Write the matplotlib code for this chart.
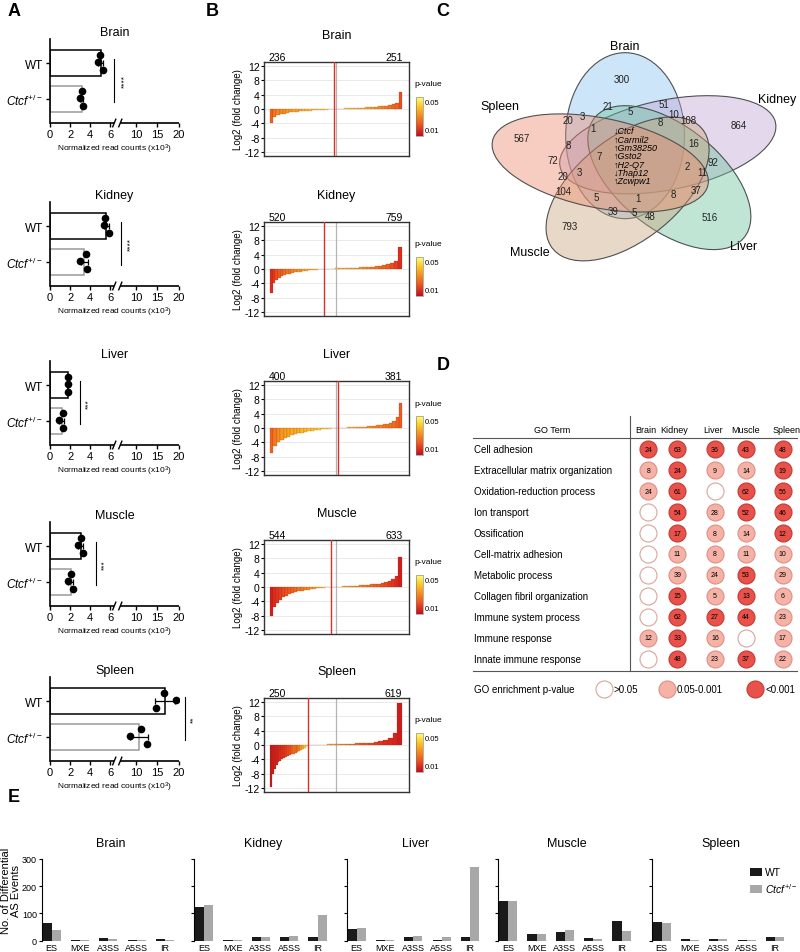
import numpy as np
import matplotlib
matplotlib.use('Agg')
import matplotlib.pyplot as plt
from matplotlib.patches import Ellipse, Patch
from matplotlib.colors import LinearSegmentedColormap, Normalize, to_rgba
from matplotlib.cm import ScalarMappable

plt.rcParams['font.family'] = ['Liberation Sans', 'DejaVu Sans']
plt.rcParams['mathtext.fontset'] = 'custom'
plt.rcParams['mathtext.rm'] = 'Liberation Sans'
plt.rcParams['mathtext.it'] = 'Liberation Sans:italic'
plt.rcParams['mathtext.bf'] = 'Liberation Sans:bold'
plt.rcParams['axes.unicode_minus'] = False

#----------------------------------------------------------------------
# data
#----------------------------------------------------------------------
tissues = ['Brain', 'Kidney', 'Liver', 'Muscle', 'Spleen']

# A: normalized read counts (x10^3), three replicates per genotype
wt_pts = [[5.0, 4.8, 5.3], [5.5, 5.4, 5.9], [1.8, 1.8, 1.8], [3.1, 2.8, 3.3], [16.5, 19.3, 14.7]]
het_pts = [[3.2, 3.0, 3.3], [3.6, 3.0, 3.7], [1.27, 0.9, 1.3], [2.1, 1.8, 2.3], [11.1, 8.6, 12.6]]
stars = ['****', '****', '***', '***', '**']

# B: number of down / up regulated genes and sorted log2 fold changes
n_down = [236, 520, 400, 544, 250]
n_up = [251, 759, 381, 633, 619]

brain_fc_down = [-3.8, -2.2, -1.7, -1.45, -1.25, -1.1, -0.95, -0.85, -0.75, -0.65, -0.57, -0.5, -0.43, -0.37, -0.31, -0.25, -0.19, -0.14, -0.09, -0.04]
brain_fc_up = [0.04, 0.08, 0.12, 0.16, 0.2, 0.24, 0.28, 0.33, 0.38, 0.43, 0.49, 0.55, 0.62, 0.7, 0.8, 0.92, 1.05, 1.25, 1.6, 4.8]
kidney_fc_down = [-6.5, -4.0, -3.0, -2.4, -2.0, -1.7, -1.45, -1.25, -1.1, -0.95, -0.82, -0.7, -0.6, -0.5, -0.4, -0.32, -0.24, -0.16, -0.1, -0.04]
kidney_fc_up = [0.04, 0.08, 0.12, 0.16, 0.2, 0.25, 0.3, 0.35, 0.4, 0.46, 0.52, 0.6, 0.68, 0.78, 0.9, 1.05, 1.25, 1.55, 2.1, 6.0]
liver_fc_down = [-7.0, -5.0, -4.0, -3.3, -2.8, -2.4, -2.0, -1.7, -1.45, -1.25, -1.05, -0.9, -0.75, -0.6, -0.48, -0.37, -0.27, -0.18, -0.1, -0.04]
liver_fc_up = [0.04, 0.08, 0.12, 0.16, 0.2, 0.25, 0.3, 0.35, 0.4, 0.46, 0.53, 0.6, 0.7, 0.82, 0.97, 1.2, 1.5, 2.0, 3.0, 7.0]
muscle_fc_down = [-8.0, -5.5, -4.3, -3.5, -2.9, -2.4, -2.0, -1.7, -1.45, -1.2, -1.0, -0.85, -0.7, -0.56, -0.45, -0.34, -0.25, -0.17, -0.1, -0.04]
muscle_fc_up = [0.04, 0.08, 0.12, 0.17, 0.22, 0.27, 0.33, 0.4, 0.47, 0.55, 0.63, 0.72, 0.83, 0.95, 1.1, 1.3, 1.6, 2.1, 3.0, 8.3]
spleen_fc_down = [-11.5, -8.0, -6.5, -5.5, -4.8, -4.3, -3.9, -3.6, -3.3, -3.05, -2.8, -2.6, -2.4, -2.2, -2.0, -1.75, -1.5, -1.15, -0.75, -0.25]
spleen_fc_up = [0.03, 0.06, 0.09, 0.12, 0.16, 0.2, 0.24, 0.28, 0.33, 0.38, 0.44, 0.5, 0.58, 0.68, 0.8, 1.0, 1.3, 1.9, 3.2, 11.5]

brain_p_down = [0.02, 0.025, 0.028, 0.03, 0.03, 0.032, 0.034, 0.035, 0.036, 0.038, 0.04, 0.041, 0.042, 0.044, 0.045, 0.046, 0.047, 0.048, 0.049, 0.05]
brain_p_up = [0.05, 0.049, 0.048, 0.047, 0.046, 0.045, 0.043, 0.041, 0.04, 0.038, 0.036, 0.034, 0.032, 0.03, 0.028, 0.026, 0.024, 0.022, 0.02, 0.015]
kidney_p_down = [0.008, 0.012, 0.015, 0.018, 0.02, 0.022, 0.024, 0.026, 0.028, 0.03, 0.032, 0.034, 0.036, 0.038, 0.04, 0.042, 0.044, 0.046, 0.048, 0.05]
kidney_p_up = [0.05, 0.048, 0.046, 0.044, 0.042, 0.04, 0.038, 0.036, 0.034, 0.032, 0.03, 0.028, 0.026, 0.024, 0.022, 0.02, 0.018, 0.015, 0.012, 0.008]
liver_p_down = [0.02, 0.025, 0.03, 0.032, 0.034, 0.035, 0.036, 0.037, 0.038, 0.04, 0.041, 0.042, 0.043, 0.044, 0.045, 0.046, 0.047, 0.048, 0.049, 0.05]
liver_p_up = [0.05, 0.048, 0.046, 0.044, 0.042, 0.04, 0.038, 0.036, 0.034, 0.032, 0.03, 0.029, 0.028, 0.027, 0.026, 0.025, 0.024, 0.022, 0.02, 0.018]
muscle_p_down = [0.005, 0.008, 0.01, 0.012, 0.014, 0.016, 0.018, 0.02, 0.022, 0.024, 0.026, 0.028, 0.03, 0.033, 0.036, 0.039, 0.042, 0.045, 0.048, 0.05]
muscle_p_up = [0.05, 0.047, 0.044, 0.041, 0.038, 0.035, 0.032, 0.03, 0.028, 0.026, 0.024, 0.022, 0.02, 0.018, 0.016, 0.014, 0.012, 0.01, 0.008, 0.005]
spleen_p_down = [0.003, 0.004, 0.005, 0.006, 0.007, 0.008, 0.009, 0.01, 0.012, 0.014, 0.016, 0.02, 0.025, 0.022, 0.03, 0.028, 0.035, 0.04, 0.045, 0.05]
spleen_p_up = [0.05, 0.048, 0.045, 0.042, 0.039, 0.036, 0.033, 0.03, 0.027, 0.024, 0.021, 0.018, 0.016, 0.014, 0.012, 0.01, 0.008, 0.007, 0.006, 0.004]

fc_down = [brain_fc_down, kidney_fc_down, liver_fc_down, muscle_fc_down, spleen_fc_down]
fc_up = [brain_fc_up, kidney_fc_up, liver_fc_up, muscle_fc_up, spleen_fc_up]
p_down = [brain_p_down, kidney_p_down, liver_p_down, muscle_p_down, spleen_p_down]
p_up = [brain_p_up, kidney_p_up, liver_p_up, muscle_p_up, spleen_p_up]

# C: venn region counts
venn_sets = ['Brain', 'Kidney', 'Liver', 'Muscle', 'Spleen']
venn_counts = ['300', '864', '567', '516', '793', '21', '5', '51', '10', '108', '8', '20', '3', '1', '8',
               '16', '72', '7', '92', '2', '3', '20', '11', '104', '5', '1', '8', '37', '39', '5', '48']
core_genes = ['Ctcf', 'Carmil2', 'Gm38250', 'Gsto2', 'H2-Q7', 'Thap12', 'Zcwpw1']
core_dir = ['\u2193', '\u2191', '\u2191', '\u2191', '\u2191', '\u2193', '\u2191']

# D: GO terms, gene counts and p-value class (0: >0.05, 1: 0.05-0.001, 2: <0.001)
go_terms = ['Cell adhesion', 'Extracellular matrix organization', 'Oxidation-reduction process',
            'Ion transport', 'Ossification', 'Cell-matrix adhesion', 'Metabolic process',
            'Collagen fibril organization', 'Immune system process', 'Immune response',
            'Innate immune response']
go_counts = [[24, 63, 36, 43, 48],
             [8, 24, 9, 14, 19],
             [24, 61, None, 62, 56],
             [None, 54, 28, 52, 46],
             [None, 17, 8, 14, 12],
             [None, 11, 8, 11, 10],
             [None, 39, 24, 53, 29],
             [None, 15, 5, 13, 6],
             [None, 62, 27, 44, 23],
             [12, 33, 16, None, 17],
             [None, 48, 23, 37, 22]]
go_class = [[2, 2, 2, 2, 2],
            [1, 2, 1, 1, 2],
            [1, 2, 0, 2, 2],
            [0, 2, 1, 2, 2],
            [0, 2, 1, 1, 2],
            [0, 1, 1, 1, 1],
            [0, 1, 1, 2, 1],
            [0, 2, 1, 2, 1],
            [0, 2, 2, 2, 1],
            [1, 2, 1, 0, 1],
            [0, 2, 1, 2, 1]]
go_legend = ['>0.05', '0.05-0.001', '<0.001']

# E: differential AS events
as_types = ['ES', 'MXE', 'A3SS', 'A5SS', 'IR']
as_wt = [[65, 2, 10, 2, 8], [122, 2, 15, 12, 15], [44, 2, 12, 3, 12], [146, 25, 31, 10, 72], [68, 6, 6, 3, 12]]
as_het = [[38, 1, 5, 1, 3], [132, 1, 12, 18, 96], [48, 1, 17, 12, 270], [146, 26, 41, 7, 37], [65, 2, 5, 2, 13]]

#----------------------------------------------------------------------
W, H = 800, 953
fig = plt.figure(figsize=(W / 100, H / 100), dpi=100)


def rect(x0, y0, x1, y1):
    return [x0 / W, 1 - y1 / H, (x1 - x0) / W, (y1 - y0) / H]


def ftext(x, y, s, **kw):
    fig.text(x / W, 1 - y / H, s, **kw)


het_label = r'$\mathit{Ctcf}^{+/-}$'

for lab, x, y in [('A', 14, 12), ('B', 212, 12), ('C', 443, 12), ('D', 443, 366), ('E', 14, 797)]:
    ftext(x, y, lab, fontsize=13, fontweight='bold', ha='center', va='center')

#---------------- A: broken-axis bar charts ----------------
def fwd(x):
    x = np.asarray(x, dtype=float)
    return np.where(x <= 6.4, x, 7.0 + (x - 6.4) * 0.43)


def inv(s):
    s = np.asarray(s, dtype=float)
    return np.where(s <= 6.4, s, np.where(s < 7.0, 6.4, 6.4 + (s - 7.0) / 0.43))


a_bottoms = [124, 287, 446, 607, 762]
sig_x = [6.4, 6.63, 3.0, 4.6, 21.5]
star_x = [7.33, 8.73, 3.9, 5.5, 23.4]
dot_dy = [0.22, 0.03, -0.2]
sc_max = float(fwd(20))

for i, t in enumerate(tissues):
    b = a_bottoms[i]
    ax = fig.add_axes(rect(50, b - 84, 179, b))
    ax.set_xscale('function', functions=(fwd, inv))
    ax.set_xlim(0, 20)
    ax.set_ylim(-0.667, 1.667)
    for yc, pts, ec in [(1, wt_pts[i], 'black'), (0, het_pts[i], '#9a9a9a')]:
        m = np.mean(pts)
        sd = np.std(pts, ddof=1)
        ax.barh(yc, m, height=0.7, color='white', edgecolor=ec, linewidth=1.1, zorder=2)
        ax.errorbar(m, yc, xerr=sd, color='black', capsize=2, lw=0.9, capthick=0.9, zorder=3)
        ax.plot(pts, yc + np.array(dot_dy), 'o', color='black', ms=4.5, zorder=4)
    ax.set_xticks([0, 2, 4, 6, 10, 15, 20])
    ax.set_xticklabels(['0', '2', '4', '6', '10', '15', '20'])
    ax.minorticks_off()
    ax.set_yticks([1, 0])
    ax.set_yticklabels(['WT', het_label])
    ax.tick_params(axis='x', labelsize=8, length=3, width=1, pad=1)
    ax.tick_params(axis='y', labelsize=8.5, length=3, width=1, pad=2)
    for sp in ['top', 'right', 'bottom']:
        ax.spines[sp].set_visible(False)
    ax.spines['left'].set_linewidth(1.2)
    for s0, s1 in [(0, 6.4), (7.0, sc_max)]:
        ax.plot([s0 / sc_max, s1 / sc_max], [0, 0], transform=ax.transAxes, color='black',
                lw=1.2, clip_on=False, solid_capstyle='butt')
    for s in [6.4, 7.0]:
        ax.plot([s / sc_max - 0.012, s / sc_max + 0.012], [-0.045, 0.045], transform=ax.transAxes,
                color='black', lw=1.0, clip_on=False)
    ax.plot([sig_x[i]] * 2, [1.11, -0.08], color='black', lw=0.8, clip_on=False)
    ax.text(star_x[i], 0.5, stars[i], rotation=90, ha='center', va='center', fontsize=6, clip_on=False)
    ax.set_xlabel('Normalized read counts (x10$^3$)', fontsize=6, labelpad=2)
    ax.set_title(t, fontsize=9, pad=3)

#---------------- B: waterfall plots ----------------
pv_cmap = LinearSegmentedColormap.from_list(
    'pv', [(0, '#b5121b'), (0.12, '#d9261e'), (0.3, '#ec571e'), (0.55, '#f5921f'),
           (0.8, '#fbd22c'), (1, '#ffff85')])
pv_norm = Normalize(0, 0.056)
b_tops = [63, 223, 382, 541, 699]

for i, t in enumerate(tissues):
    top = b_tops[i]
    ax = fig.add_axes(rect(264, top, 409, top + 94))
    nd, nu = n_down[i], n_up[i]
    N = nd + nu
    wd = nd / len(fc_down[i])
    wu = nu / len(fc_up[i])
    xd = np.arange(len(fc_down[i])) * wd
    xu = nd + np.arange(len(fc_up[i])) * wu
    ax.bar(xd, fc_down[i], width=wd, align='edge', color=pv_cmap(pv_norm(p_down[i])),
           edgecolor=(0.6, 0.15, 0.05, 0.45), linewidth=0.3, zorder=2)
    ax.bar(xu, fc_up[i], width=wu, align='edge', color=pv_cmap(pv_norm(p_up[i])),
           edgecolor=(0.6, 0.15, 0.05, 0.45), linewidth=0.3, zorder=2)
    ax.axvline(N / 2, color='#b4b4b4', lw=0.9, zorder=1)
    ax.axvline(nd, color='#d9302a', lw=1.0, zorder=3)
    ax.set_xlim(-6 / 132 * N, N + 7 / 132 * N)
    ax.set_ylim(-13, 13)
    ax.set_yticks(np.arange(-12, 13, 4))
    ax.set_xticks([])
    ax.grid(axis='y', color='#e6e6e6', lw=0.6)
    ax.set_axisbelow(True)
    ax.tick_params(axis='y', labelsize=7.5, length=2, pad=1)
    for sp in ax.spines.values():
        sp.set_color('#333333')
        sp.set_linewidth(1.0)
    ax.set_ylabel('Log2 (fold change)', fontsize=7, labelpad=1)
    ax.text(0.03, 1.0, str(nd), transform=ax.transAxes, ha='left', va='bottom', fontsize=7.5)
    ax.text(0.955, 1.0, str(nu), transform=ax.transAxes, ha='right', va='bottom', fontsize=7.5)
    ax.set_title(t, fontsize=9, pad=17.5)

    cax = fig.add_axes(rect(416, top + 35, 423, top + 74))
    cb = fig.colorbar(ScalarMappable(norm=pv_norm, cmap=pv_cmap), cax=cax, ticks=[0.01, 0.05])
    cb.ax.set_yticklabels(['0.01', '0.05'])
    cb.ax.tick_params(labelsize=5.5, length=0, pad=1)
    cb.outline.set_linewidth(0.4)
    cb.outline.set_edgecolor('#777777')
    ftext(414, top + 22, 'p-value', fontsize=6, va='center', ha='left')

#---------------- C: five-set venn ----------------
axc = fig.add_axes(rect(430, 20, 800, 280))
cx, cy, sx = 638, 163, 1.35
axc.set_xlim((430 - cx) / sx, (800 - cx) / sx)
axc.set_ylim(cy - 280, cy - 20)
axc.axis('off')
venn_colors = ['#86c2f0', '#c0a6d4', '#6cc29c', '#caa27a', '#ee8a6e']
for k in range(5):
    off = np.deg2rad(110 - 72 * k)
    axc.add_patch(Ellipse((28 * np.cos(off), 28 * np.sin(off)), width=2 * 83, height=2 * 44,
                          angle=90 - 72 * k, facecolor=to_rgba(venn_colors[k], 0.42),
                          edgecolor='#505050', linewidth=0.8))

venn_xy = [(621.7, 80), (738.3, 126), (521.7, 139.3), (709.3, 218.3), (570, 227.3), (607.7, 107.3),
           (630, 112), (664.3, 104.7), (673.3, 115), (688.3, 120.7), (660, 122.7), (568.3, 120.7),
           (582.7, 117.3), (593.3, 128.7), (568.3, 146), (693.3, 144), (553.3, 160.7), (599.3, 156.7),
           (713.3, 162.7), (687.7, 166.7), (579.3, 173.3), (562.7, 177.3), (702.7, 173.3),
           (563.3, 191.7), (596.7, 198), (638.3, 199.3), (673.3, 194.7), (696, 191.3),
           (612.7, 212.3), (634, 213.3), (650, 216.7)]
for s, (x, y) in zip(venn_counts, venn_xy):
    ftext(x, y, s, fontsize=7, ha='center', va='center', color='#222222')
for k, g in enumerate(core_genes):
    ftext(614, 131.5 + 8.4 * k, core_dir[k] + g, fontsize=6.5, style='italic', ha='left', va='center')
set_xy = [(625, 46.7), (776.7, 100), (743.3, 247.3), (530, 253.3), (500, 106.7)]
for s, (x, y) in zip(venn_sets, set_xy):
    ftext(x, y, s, fontsize=9, ha='center', va='center')

#---------------- D: GO term table ----------------
axd = fig.add_axes(rect(470, 440, 800, 670))
axd.set_xlim(470, 800)
axd.set_ylim(10.5, -0.5)
axd.axis('off')
col_x = [648.3, 677.3, 715, 746, 782.7]
head_x = [646, 674.3, 713.3, 745.7, 786.7]
circ_fc = ['white', '#f5b3a8', '#e8524a']
circ_ec = ['#d9a59c', '#e08e82', '#c43b35']
axd.text(551.7, -0.95, 'GO Term', fontsize=6.5, ha='center', va='center', clip_on=False)
for j, t in enumerate(tissues):
    axd.text(head_x[j], -0.95, t, fontsize=6.5, ha='center', va='center', clip_on=False)
axd.plot([472.7, 796.7], [-0.55, -0.55], color='#555555', lw=0.8, clip_on=False)
axd.plot([472.7, 796.7], [10.58, 10.58], color='#555555', lw=0.8, clip_on=False)
axd.plot([630, 630], [-1.61, 10.58], color='#555555', lw=0.8, clip_on=False)
for r, term in enumerate(go_terms):
    axd.text(474, r, term, fontsize=7, ha='left', va='center')
    for j in range(5):
        c = go_class[r][j]
        axd.scatter(col_x[j], r, s=150, facecolor=circ_fc[c], edgecolor=circ_ec[c], linewidth=0.8,
                    zorder=3, clip_on=False)
        if go_counts[r][j] is not None:
            axd.text(col_x[j], r, str(go_counts[r][j]), fontsize=5, ha='center', va='center', zorder=4)
axd.text(474, 11.46, 'GO enrichment p-value', fontsize=7, ha='left', va='center', clip_on=False)
for c, (x, lab) in enumerate(zip([603.5, 666.7, 755], go_legend)):
    axd.scatter(x, 11.46, s=150, facecolor=circ_fc[c], edgecolor=circ_ec[c], linewidth=0.8, clip_on=False)
    axd.text(x + 10, 11.46, lab, fontsize=7, ha='left', va='center', clip_on=False)

#---------------- E: AS events ----------------
e_left = [41.7, 194.3, 346.7, 498.3, 651.7]
xpos = np.arange(len(as_types))
for i, t in enumerate(tissues):
    ax = fig.add_axes(rect(e_left[i], 860, e_left[i] + 138, 941.7))
    ax.bar(xpos - 0.16, as_wt[i], width=0.32, color='#1a1a1a')
    ax.bar(xpos + 0.16, as_het[i], width=0.32, color='#a8a8a8')
    ax.set_ylim(0, 300)
    ax.set_xlim(-0.35, 4.52)
    ax.set_yticks([0, 100, 200, 300])
    ax.set_xticks(xpos)
    ax.set_xticklabels(as_types)
    ax.tick_params(axis='x', length=0, labelsize=6.5, pad=2)
    ax.tick_params(axis='y', length=2.5, labelsize=6.5, pad=1, width=0.8)
    if i > 0:
        ax.set_yticklabels([])
    for sp in ['top', 'right', 'bottom']:
        ax.spines[sp].set_visible(False)
    ax.spines['left'].set_linewidth(0.8)
    ax.set_title(t, fontsize=9, pad=9)
    if i == 0:
        ax.set_ylabel('No. of Differential\nAS Events', fontsize=8, linespacing=1.0)
        ax.yaxis.set_label_coords(-0.15, 0.62)
    if i == 4:
        ax.legend([Patch(facecolor='#1a1a1a'), Patch(facecolor='#a8a8a8')], ['WT', het_label],
                  loc='upper right', bbox_to_anchor=(1.09, 0.95), frameon=False, fontsize=7.5,
                  handlelength=1.2, handleheight=0.8, handletextpad=0.3, labelspacing=0.35,
                  borderaxespad=0)

fig.savefig('out.png', dpi=100)
